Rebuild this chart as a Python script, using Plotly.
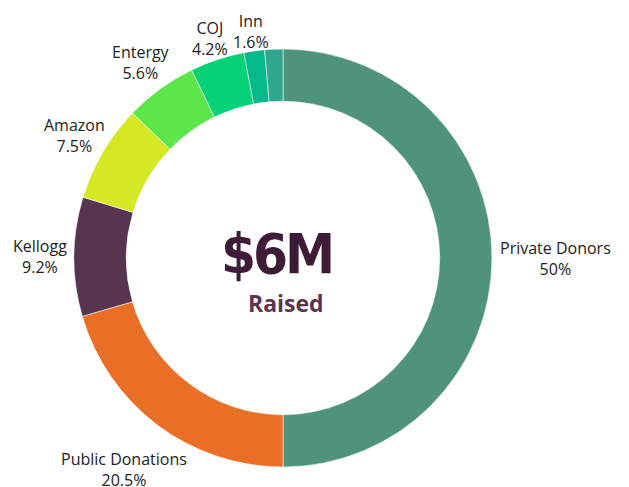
import math
import plotly.graph_objects as go

labels = ["Private Donors", "Public Donations", "Kellogg", "Amazon", "Entergy", "COJ", "Inn", "Other"]
values = [50.0, 20.5, 9.2, 7.5, 5.6, 4.2, 1.6, 1.4]
pct_text = ["50%", "20.5%", "9.2%", "7.5%", "5.6%", "4.2%", "1.6%", ""]
show_label = [True, True, True, True, True, True, True, False]
colors = ["#4f947a", "#ea6f26", "#57344f", "#d6e824", "#5ce64a", "#05d176", "#06b98b", "#2fa68e"]

center_big = "$6M"
center_small = "Raised"

W, H = 629, 487
# pie box in pixels
PX0, PX1, PY0, PY1 = 0, 566, 49, 467
CX, CY = (PX0 + PX1) / 2, (PY0 + PY1) / 2
R = min(PX1 - PX0, PY1 - PY0) / 2


def px2paper(x, y):
    return x / W, (H - y) / H


fig = go.Figure(go.Pie(
    labels=labels,
    values=values,
    textinfo="none",
    hole=0.75,
    sort=False,
    direction="clockwise",
    rotation=0,
    marker=dict(colors=colors, line=dict(color="rgba(255,255,255,0.55)", width=1)),
    domain=dict(x=[PX0 / W, PX1 / W], y=[(H - PY1) / H, (H - PY0) / H]),
    showlegend=False,
))

# outside labels positioned along each slice's mid-angle
total = sum(values)
cum = 0.0
for lab, v, pt, show in zip(labels, values, pct_text, show_label):
    mid = (cum + v / 2) / total * 2 * math.pi
    cum += v
    if not show:
        continue
    sx, cy = math.sin(mid), math.cos(mid)
    half_w = 8.3 * max(len(lab), len(pt)) / 2
    half_h = 13
    d = R + 5 + abs(sx) * half_w + abs(cy) * half_h
    tx, ty = CX + d * sx, CY - d * cy
    xp, yp = px2paper(tx, ty)
    fig.add_annotation(x=xp, y=yp, xref="paper", yref="paper",
                       text=f"{lab}<br>{pt}", showarrow=False, align="center",
                       xanchor="center", yanchor="middle",
                       font=dict(family="Open Sans", size=16, color="#222222"))

bx, by = px2paper(CX - 7, CY - 5)
fig.add_annotation(x=bx, y=by, xref="paper", yref="paper",
                   text=f'<span style="letter-spacing:-3px">{center_big}</span>',
                   showarrow=False, xanchor="center", yanchor="middle",
                   font=dict(family="DejaVu Sans Condensed", size=56, color="#3e1b37",
                             weight="bold"))
sx_, sy_ = px2paper(CX + 3, CY + 45)
fig.add_annotation(x=sx_, y=sy_, xref="paper", yref="paper", text=center_small,
                   showarrow=False, xanchor="center", yanchor="middle",
                   font=dict(family="Open Sans", size=23, color="#5b3552", weight="bold"))

fig.update_layout(
    width=W, height=H,
    margin=dict(l=0, r=0, t=0, b=0),
    paper_bgcolor="white",
    plot_bgcolor="white",
)

fig.write_html("out.html", config={"displayModeBar": False},
               post_script="document.body.style.margin='0';")
